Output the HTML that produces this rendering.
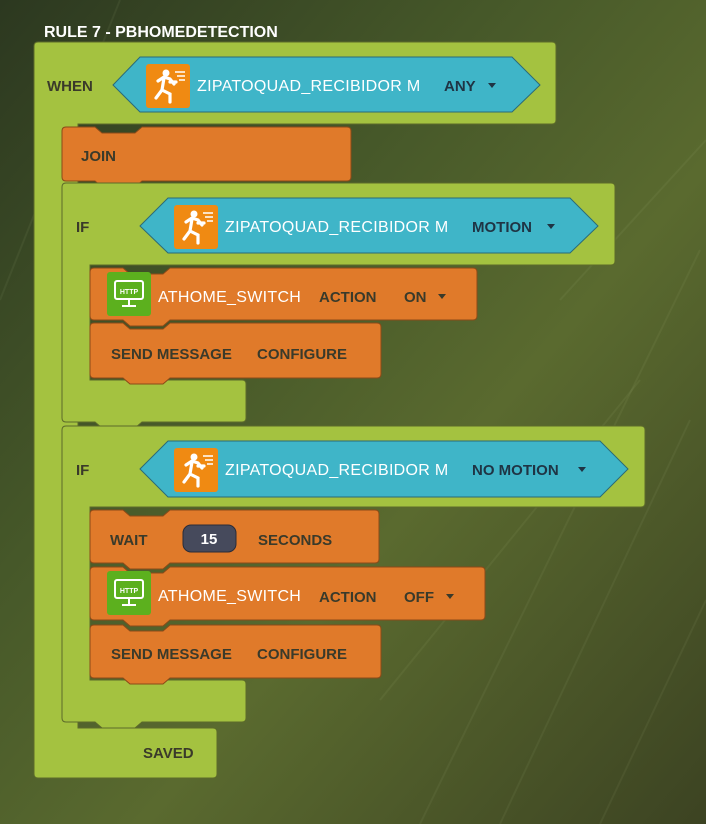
<!DOCTYPE html>
<html><head><meta charset="utf-8"><style>
html,body{margin:0;padding:0;width:706px;height:824px;overflow:hidden}
svg{display:block}
text{font-family:"Liberation Sans",sans-serif;font-size:15px;font-weight:bold}
.d{fill:#3a3a2a}.w{fill:#fff;font-weight:normal;font-size:16px;letter-spacing:0.3px}.b{fill:#1f3444}
</style></head><body>
<svg width="706" height="824" viewBox="0 0 706 824" xmlns="http://www.w3.org/2000/svg">
<defs>
<linearGradient id="bg" x1="0" y1="0" x2="1" y2="1">
<stop offset="0" stop-color="#2c3820"/><stop offset="0.35" stop-color="#465829"/>
<stop offset="0.6" stop-color="#5a6a2f"/><stop offset="1" stop-color="#3c4322"/>
</linearGradient>
<g id="run">
<rect x="0" y="0" width="44" height="44" rx="3" fill="#f08a12"/>
<circle cx="20" cy="9" r="3.5" fill="#fff"/>
<path d="M12 17 L18 13 L24 15 L28 20 M18 14 L16 26 L10 34 M16 26 L24 30 L24 38 M24 18 L30 18" stroke="#fff" stroke-width="3.2" fill="none" stroke-linecap="round"/>
<path d="M29 8h10M31 12h8M33 16h6" stroke="#fff" stroke-width="1.6"/>
</g>
<g id="http">
<rect x="0" y="0" width="44" height="44" rx="3" fill="#5cb01e"/>
<rect x="8" y="9" width="28" height="18" rx="2" fill="none" stroke="#fff" stroke-width="2"/>
<text x="22" y="22" text-anchor="middle" style="font-size:7px;fill:#fff">HTTP</text>
<path d="M22 27v6M15 34h14" stroke="#fff" stroke-width="2"/>
</g>
<path id="tri" d="M0 0 H8 L4 5 Z"/>
</defs>
<rect width="706" height="824" fill="url(#bg)"/>
<g stroke="#c8d89a" stroke-opacity="0.07" stroke-width="2" fill="none">
<path d="M420 824 L700 250"/><path d="M500 824 L690 420"/><path d="M600 824 L706 600"/><path d="M0 300 L120 0"/><path d="M560 300 L706 140"/><path d="M380 700 L640 380"/>
</g>
<text x="44" y="37" style="fill:#fff;font-size:16px">RULE 7 - PBHOMEDETECTION</text>

<g fill="#a4c240" stroke="#5c6a2a" stroke-width="1">
<path d="M38 42 H552 Q556 42 556 46 V120 Q556 124 552 124 H78 V728 H213 Q217 728 217 732 V774 Q217 778 213 778 H38 Q34 778 34 774 V46 Q34 42 38 42Z"/>
</g>
<text x="47" y="91" class="d">WHEN</text>
<path d="M113 85 L140 57 H512 L540 85 L512 112 H140 Z" fill="#3fb5c8" stroke="#2a6a78"/>
<use href="#run" x="146" y="64"/>
<text x="197" y="91" class="w">ZIPATOQUAD_RECIBIDOR M</text>
<text x="444" y="91" class="d b">ANY</text>
<use href="#tri" x="488" y="83" fill="#1f3444"/>

<path d="M66 127 H95 L102 133 H135 L142 127 H347 Q351 127 351 131 V177 Q351 181 347 181 H142 L135 187 H102 L95 181 H66 Q62 181 62 177 V131 Q62 127 66 127Z" fill="#e07a2a" stroke="#8a4a18"/>
<text x="81" y="161" class="d">JOIN</text>

<path d="M66 183 H611 Q615 183 615 187 V261 Q615 265 611 265 H90 V380 H242 Q246 380 246 384 V418 Q246 422 242 422 H142 L135 428 H102 L95 422 H66 Q62 422 62 418 V187 Q62 183 66 183Z" fill="#a4c240" stroke="#5c6a2a"/>
<text x="76" y="232" class="d">IF</text>
<path d="M140 226 L168 198 H570 L598 226 L570 253 H168 Z" fill="#3fb5c8" stroke="#2a6a78"/>
<use href="#run" x="174" y="205"/>
<text x="225" y="232" class="w">ZIPATOQUAD_RECIBIDOR M</text>
<text x="472" y="232" class="d b">MOTION</text>
<use href="#tri" x="547" y="224" fill="#1f3444"/>

<path d="M94 268 H123 L130 274 H163 L170 268 H473 Q477 268 477 272 V316 Q477 320 473 320 H170 L163 326 H130 L123 320 H94 Q90 320 90 316 V272 Q90 268 94 268Z" fill="#e07a2a" stroke="#8a4a18"/>
<use href="#http" x="107" y="272"/>
<text x="158" y="302" class="w">ATHOME_SWITCH</text>
<text x="319" y="302" class="d">ACTION</text>
<text x="404" y="302" class="d">ON</text>
<use href="#tri" x="438" y="294" fill="#3a3a2a"/>

<path d="M94 323 H123 L130 329 H163 L170 323 H377 Q381 323 381 327 V374 Q381 378 377 378 H170 L163 384 H130 L123 378 H94 Q90 378 90 374 V327 Q90 323 94 323Z" fill="#e07a2a" stroke="#8a4a18"/>
<text x="111" y="359" class="d">SEND MESSAGE</text>
<text x="257" y="359" class="d">CONFIGURE</text>

<path d="M66 426 H641 Q645 426 645 430 V503 Q645 507 641 507 H90 V680 H242 Q246 680 246 684 V718 Q246 722 242 722 H142 L135 728 H102 L95 722 H66 Q62 722 62 718 V430 Q62 426 66 426Z" fill="#a4c240" stroke="#5c6a2a"/>
<text x="76" y="475" class="d">IF</text>
<path d="M140 469 L168 441 H600 L628 469 L600 497 H168 Z" fill="#3fb5c8" stroke="#2a6a78"/>
<use href="#run" x="174" y="448"/>
<text x="225" y="475" class="w">ZIPATOQUAD_RECIBIDOR M</text>
<text x="472" y="475" class="d b">NO MOTION</text>
<use href="#tri" x="578" y="467" fill="#1f3444"/>

<path d="M94 510 H123 L130 516 H163 L170 510 H375 Q379 510 379 514 V559 Q379 563 375 563 H170 L163 569 H130 L123 563 H94 Q90 563 90 559 V514 Q90 510 94 510Z" fill="#e07a2a" stroke="#8a4a18"/>
<text x="110" y="545" class="d">WAIT</text>
<rect x="183" y="525" width="53" height="27" rx="8" fill="#464a5c" stroke="#2a2c38"/>
<text x="209" y="544" text-anchor="middle" style="fill:#fff">15</text>
<text x="258" y="545" class="d">SECONDS</text>

<path d="M94 567 H123 L130 573 H163 L170 567 H481 Q485 567 485 571 V616 Q485 620 481 620 H170 L163 626 H130 L123 620 H94 Q90 620 90 616 V571 Q90 567 94 567Z" fill="#e07a2a" stroke="#8a4a18"/>
<use href="#http" x="107" y="571"/>
<text x="158" y="601" class="w">ATHOME_SWITCH</text>
<text x="319" y="602" class="d">ACTION</text>
<text x="404" y="602" class="d">OFF</text>
<use href="#tri" x="446" y="594" fill="#3a3a2a"/>

<path d="M94 625 H123 L130 631 H163 L170 625 H377 Q381 625 381 629 V674 Q381 678 377 678 H170 L163 684 H130 L123 678 H94 Q90 678 90 674 V629 Q90 625 94 625Z" fill="#e07a2a" stroke="#8a4a18"/>
<text x="111" y="659" class="d">SEND MESSAGE</text>
<text x="257" y="659" class="d">CONFIGURE</text>

<text x="143" y="758" class="d">SAVED</text>
</svg>
</body></html>
